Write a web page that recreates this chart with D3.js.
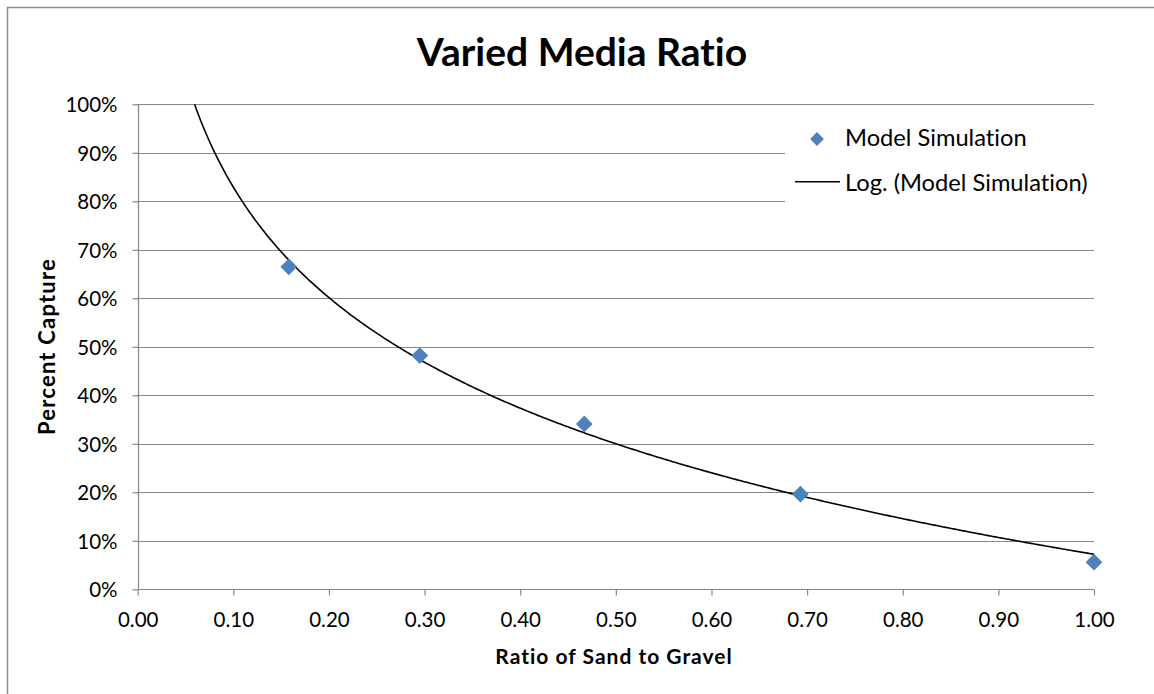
<!DOCTYPE html>
<html>
<head>
<meta charset="utf-8">
<script src="https://cdn.jsdelivr.net/npm/d3@7"></script>
<style>
  html, body { margin: 0; padding: 0; background: #fff; }
  svg { display: block; font-family: Lato, "Open Sans", sans-serif; font-variant-ligatures: none; }
</style>
</head>
<body>
<svg id="chart" width="1154" height="694"></svg>
<script>
// ---- data ----
const ratio = [0.158, 0.295, 0.467, 0.693, 1.0];
const capture = [0.665, 0.482, 0.341, 0.196, 0.056];
const xTicks = [0, 0.1, 0.2, 0.3, 0.4, 0.5, 0.6, 0.7, 0.8, 0.9, 1.0];
const yTicks = [0, 0.1, 0.2, 0.3, 0.4, 0.5, 0.6, 0.7, 0.8, 0.9, 1.0];
const chartTitle = "Varied Media Ratio";
const xTitle = "Ratio of Sand to Gravel";
const yTitle = "Percent Capture";
const seriesName = "Model Simulation";
const trendName = "Log. (Model Simulation)";

// ---- layout ----
const svg = d3.select("#chart");
const pLeft = 137.7, pRight = 1094, pTop = 104.3, pBottom = 589.3;
const x = d3.scaleLinear().domain([0, 1]).range([pLeft, pRight]);
const y = d3.scaleLinear().domain([0, 1]).range([pBottom, pTop]);
const gridColor = "#878787";
const blue = "#4f81bd";

// outer chart border (cut off at right/bottom)
svg.append("rect").attr("x", 7.5).attr("y", 7.5).attr("width", 1300).attr("height", 900)
  .attr("fill", "#fff").attr("stroke", "#8c8c8c").attr("stroke-width", 1.5);

// gridlines
svg.append("g").selectAll("line").data(yTicks.filter(d => d > 0)).join("line")
  .attr("x1", pLeft).attr("x2", pRight)
  .attr("y1", d => Math.round(y(d)) + 0.5).attr("y2", d => Math.round(y(d)) + 0.5)
  .attr("stroke", gridColor).attr("stroke-width", 1.2);

// y axis
const yAxis = svg.append("g").attr("transform", `translate(${Math.round(pLeft) + 0.5},0)`)
  .call(d3.axisLeft(y).tickValues(yTicks).tickSize(6).tickPadding(15).tickFormat(d3.format(".0%")));
// x axis
const xAxis = svg.append("g").attr("transform", `translate(0,${Math.round(pBottom) + 0.5})`)
  .call(d3.axisBottom(x).tickValues(xTicks).tickSize(6).tickPadding(17).tickFormat(d3.format(".2f")));
[yAxis, xAxis].forEach(g => {
  g.select(".domain").attr("stroke", gridColor).attr("stroke-width", 1.2);
  g.selectAll(".tick line").attr("stroke", gridColor).attr("stroke-width", 1.2);
  g.selectAll(".tick text").attr("fill", "#000").style("font-size", "20.5px").style("font-family", "Lato, sans-serif");
});
yAxis.select(".domain").attr("d", `M0,${Math.round(pBottom)}V${Math.round(pTop)}`);
xAxis.select(".domain").attr("d", `M${Math.round(pLeft)},0H${Math.round(pRight)}`);
yAxis.selectAll(".tick text").attr("dy", "0.36em");

// legend background box
svg.append("rect").attr("x", 785).attr("y", 116).attr("width", 314).attr("height", 96).attr("fill", "#fff");

// logarithmic trendline (least squares fit y = a ln x + b on the data)
const lx = ratio.map(Math.log);
const mx = d3.mean(lx), my = d3.mean(capture);
const a = d3.sum(lx.map((v, i) => (v - mx) * (capture[i] - my))) / d3.sum(lx.map(v => (v - mx) ** 2));
const b = my - a * mx;
const xStart = Math.exp((1 - b) / a);
const trendX = d3.range(0, 401).map(i => xStart + (1 - xStart) * i / 400);
const line = d3.line().x(d => x(d)).y(d => y(a * Math.log(d) + b));
svg.append("path").datum(trendX).attr("d", line)
  .attr("fill", "none").attr("stroke", "#000").attr("stroke-width", 1.6);

// points
const diamond = d3.symbol().type(d3.symbolSquare).size(140);
svg.append("g").selectAll("path").data(ratio).join("path")
  .attr("d", diamond)
  .attr("transform", (d, i) => `translate(${x(d)},${y(capture[i])}) rotate(45)`)
  .attr("fill", blue);

// legend
svg.append("path").attr("d", d3.symbol().type(d3.symbolSquare).size(95))
  .attr("transform", "translate(817,139) rotate(45)").attr("fill", blue);
svg.append("text").attr("x", 845).attr("y", 145.5).text(seriesName)
  .style("font-size", "23.7px");
svg.append("line").attr("x1", 795).attr("x2", 840).attr("y1", 181.7).attr("y2", 181.7)
  .attr("stroke", "#000").attr("stroke-width", 1.6);
svg.append("text").attr("x", 845).attr("y", 190.5).text(trendName)
  .style("font-size", "23.7px");

// titles
svg.append("text").attr("x", 582).attr("y", 66).attr("text-anchor", "middle")
  .style("font-size", "39px").style("font-weight", "bold").text(chartTitle);
svg.append("text").attr("x", 614).attr("y", 663.5).attr("text-anchor", "middle")
  .style("font-size", "21px").style("font-weight", "bold").style("letter-spacing", "1px").text(xTitle);
svg.append("text").attr("transform", `translate(55,346.5) rotate(-90)`)
  .attr("text-anchor", "middle")
  .style("font-size", "22px").style("font-weight", "bold").style("letter-spacing", "1.2px").text(yTitle);
</script>
</body>
</html>
